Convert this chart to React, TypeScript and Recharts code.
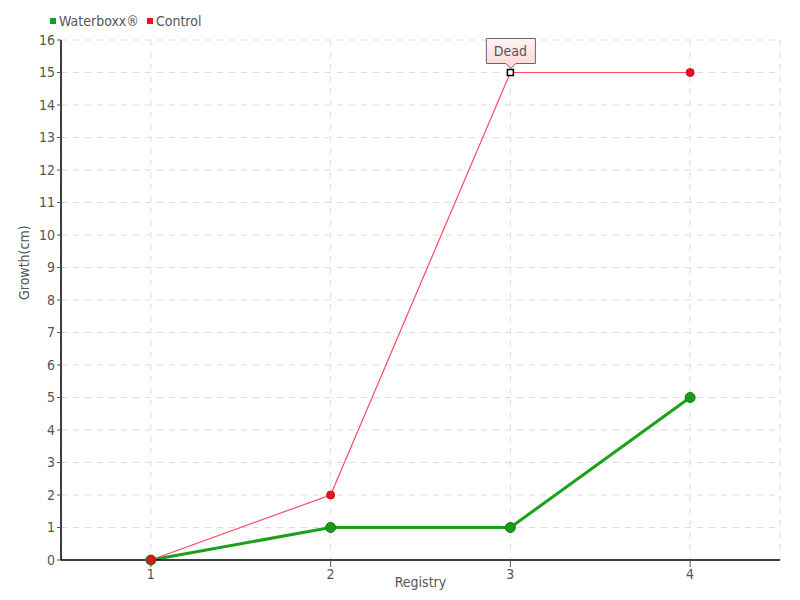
import React from "react";
import { LineChart, Line, XAxis, YAxis, CartesianGrid, Legend } from "recharts";

const registries = [1, 2, 3, 4];
const waterboxx = [0, 1, 1, 5];
const control = [0, 2, 15, 15];
const yTicks = [0, 1, 2, 3, 4, 5, 6, 7, 8, 9, 10, 11, 12, 13, 14, 15, 16];
const deadIndex = 2;
const deadLabel = "Dead";

const data = registries.map((r, i) => ({ r, waterboxx: waterboxx[i], control: control[i] }));

const FONT = "'DejaVu Sans Condensed', sans-serif";
const TXT = "#555";

const ControlDot = (props: any) => {
  const { cx, cy, index } = props;
  if (cx == null || cy == null) return null;
  if (index === deadIndex) {
    const w = 49, h = 25;
    const x0 = cx - 24, y0 = cy - 34;
    return (
      <g>
        <defs>
          <linearGradient id="deadGrad" x1="0" y1="0" x2="0" y2="1">
            <stop offset="0%" stopColor="#fff4f4" />
            <stop offset="100%" stopColor="#ffd4d4" />
          </linearGradient>
        </defs>
        <path
          d={`M${x0},${y0} h${w} v${h} h${-(w / 2 - 5)} l-5,5 l-5,-5 h${-(w / 2 - 5)} z`}
          fill="url(#deadGrad)"
          stroke="#666"
          strokeWidth={1}
        />
        <text x={cx} y={y0 + 17} textAnchor="middle" fontFamily={FONT} fontSize={14} fill={TXT}>
          {deadLabel}
        </text>
        <rect x={cx - 3} y={cy - 3} width={6} height={6} fill="#fff" stroke="#000" strokeWidth={1.5} />
      </g>
    );
  }
  return <circle cx={cx} cy={cy} r={4} fill="#e8141e" stroke="#d01018" strokeWidth={1} />;
};

const LegendContent = () => (
  <div style={{ display: "flex", alignItems: "center", fontFamily: FONT, fontSize: 14, color: TXT }}>
    <span style={{ width: 6, height: 6, background: "#1a9e1a", display: "inline-block", marginRight: 3 }} />
    <span style={{ marginRight: 8 }}>Waterboxx®</span>
    <span style={{ width: 6, height: 6, background: "#e8141e", display: "inline-block", marginRight: 3 }} />
    <span>Control</span>
  </div>
);

export default function App() {
  return (
    <div style={{ position: "absolute", left: 0, top: 0, width: 800, height: 600, background: "#fff" }}>
      <LineChart width={800} height={600} data={data} margin={{ top: 20, right: 20, bottom: 0, left: 0 }}>
        <Legend
          verticalAlign="top"
          align="left"
          height={20}
          content={<LegendContent />}
          wrapperStyle={{ top: 13, left: 50 }}
        />
        <CartesianGrid stroke="#ddd" strokeDasharray="6 6" />
        <XAxis
          dataKey="r"
          type="number"
          domain={[0.5, 4.5]}
          ticks={registries}
          height={40}
          axisLine={{ stroke: "#000", strokeWidth: 1.5 }}
          tickLine={{ stroke: "#555" }}
          tickSize={7}
          tick={{ fontFamily: FONT, fontSize: 14, fill: TXT }}
          label={{ value: "Registry", position: "insideBottom", offset: 13, fontFamily: FONT, fontSize: 14, fill: TXT }}
        />
        <YAxis
          domain={[0, 16]}
          ticks={yTicks}
          interval={0}
          width={61}
          axisLine={{ stroke: "#000", strokeWidth: 1.5 }}
          tickLine={{ stroke: "#555" }}
          tickSize={4}
          tick={{ fontFamily: FONT, fontSize: 14, fill: TXT }}
          label={{ value: "Growth(cm)", angle: -90, position: "insideLeft", offset: 24, fontFamily: FONT, fontSize: 14, fill: TXT }}
        />
        <Line
          dataKey="waterboxx"
          stroke="#1aa01a"
          strokeWidth={3}
          dot={{ r: 5, fill: "#1a9a1a", stroke: "#137a13", strokeWidth: 1 }}
          isAnimationActive={false}
        />
        <Line
          dataKey="control"
          stroke="#ff4a62"
          strokeWidth={1.2}
          dot={<ControlDot />}
          isAnimationActive={false}
        />
      </LineChart>
    </div>
  );
}
